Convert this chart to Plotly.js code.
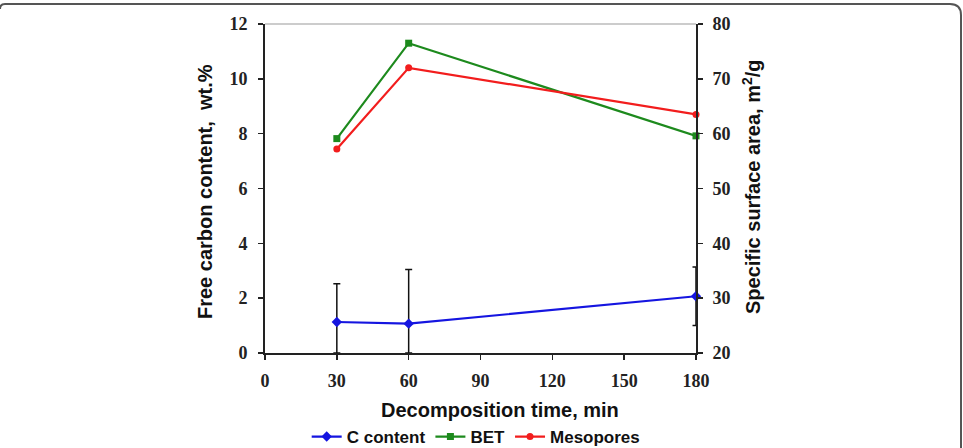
<!DOCTYPE html>
<html><head><meta charset="utf-8">
<script src="https://cdn.plot.ly/plotly-3.0.1.min.js"></script>
<style>html,body{margin:0;padding:0;background:#fff;overflow:hidden;}</style>
</head><body><div id="chart"></div>
<script>
// Data
const time = [30, 60, 180];
const cContent = [1.13, 1.07, 2.07];
const cErrPlus = [1.40, 1.98, 1.07];
const cErrMinus = [1.13, 1.07, 1.07];
const bet = [59.1, 76.5, 59.6];
const mesopores = [57.2, 72.0, 63.5];
const xTicks = [0, 30, 60, 90, 120, 150, 180];
const seriesNames = ['C content', 'BET', 'Mesopores'];

const W = 963, H = 448;
const M = {l: 265, r: 267, t: 24, b: 95, autoexpand: false};
const pw = W - M.l - M.r, ph = H - M.t - M.b;
const px = v => (v - M.l) / pw;
const py = v => (H - M.b - v) / ph;

const tickFont = {family: 'Liberation Serif, Times New Roman, serif', size: 18, color: '#222', weight: 'bold'};
const titleFont = {family: 'Liberation Sans, Arial, sans-serif', size: 20, color: '#111', weight: 'bold'};

const traces = [
  {x: time, y: cContent, name: seriesNames[0], type: 'scatter', mode: 'lines+markers',
   line: {color: '#1515e0', width: 2.2}, marker: {symbol: 'diamond', size: 8, color: '#1515e0'},
   error_y: {type: 'data', symmetric: false, array: cErrPlus, arrayminus: cErrMinus,
             color: '#111', thickness: 1.5, width: 3.5},
   cliponaxis: false, yaxis: 'y'},
  {x: time, y: bet, name: seriesNames[1], type: 'scatter', mode: 'lines+markers',
   line: {color: '#1d8a1d', width: 2.2}, marker: {symbol: 'square', size: 7, color: '#1d8a1d'},
   cliponaxis: false, yaxis: 'y2'},
  {x: time, y: mesopores, name: seriesNames[2], type: 'scatter', mode: 'lines+markers',
   line: {color: '#f21d1d', width: 2.2}, marker: {symbol: 'circle', size: 7, color: '#f21d1d'},
   cliponaxis: false, yaxis: 'y2'}
];

const axisCommon = {showgrid: false, zeroline: false, showline: true, linecolor: '#222', linewidth: 1.8,
  ticks: 'outside', ticklen: 5, tickwidth: 1.5, tickcolor: '#222', tickfont: tickFont, fixedrange: true,
  automargin: false};

const layout = {
  width: W, height: H, autosize: false,
  margin: M,
  paper_bgcolor: '#fff', plot_bgcolor: '#fff',
  showlegend: true,
  legend: {orientation: 'h', x: 0.49, xanchor: 'center', y: py(437), yanchor: 'middle',
           font: {family: 'Liberation Sans, Arial, sans-serif', size: 17, color: '#111', weight: 'bold'},
           itemwidth: 30, tracegroupgap: 0, bgcolor: 'rgba(0,0,0,0)'},
  xaxis: Object.assign({}, axisCommon, {range: [0, 180], tickvals: xTicks, ticklabelstandoff: 6}),
  yaxis: Object.assign({}, axisCommon, {range: [0, 12], dtick: 2, ticklabelstandoff: 7}),
  yaxis2: Object.assign({}, axisCommon, {range: [20, 80], dtick: 10, overlaying: 'y', side: 'right', ticklabelstandoff: 6}),
  annotations: [
    {text: 'Decomposition time, min', xref: 'paper', yref: 'paper', x: px(500), y: py(410),
     xanchor: 'center', yanchor: 'middle', showarrow: false, font: titleFont},
    {text: 'Free carbon content,  wt.%', xref: 'paper', yref: 'paper', x: px(205), y: py(192),
     xanchor: 'center', yanchor: 'middle', textangle: -90, showarrow: false, font: titleFont},
    {text: 'Specific surface area, m<sup>2</sup>/g', xref: 'paper', yref: 'paper', x: px(751), y: py(187),
     xanchor: 'center', yanchor: 'middle', textangle: -90, showarrow: false, font: titleFont}
  ],
  shapes: [
    {type: 'line', xref: 'paper', yref: 'paper', x0: 0, x1: 1, y0: 1, y1: 1,
     line: {color: '#999', width: 1.2}},
    {type: 'path', xref: 'paper', yref: 'paper',
     path: `M ${px(0)},${py(9)} Q ${px(0)},${py(4)} ${px(5)},${py(4)} L ${px(950)},${py(4)} Q ${px(961)},${py(4)} ${px(961)},${py(15)} L ${px(961)},${py(450)}`,
     line: {color: '#555', width: 2}}
  ]
};

Plotly.newPlot('chart', traces, layout, {staticPlot: true, displayModeBar: false});
</script>
</body></html>
